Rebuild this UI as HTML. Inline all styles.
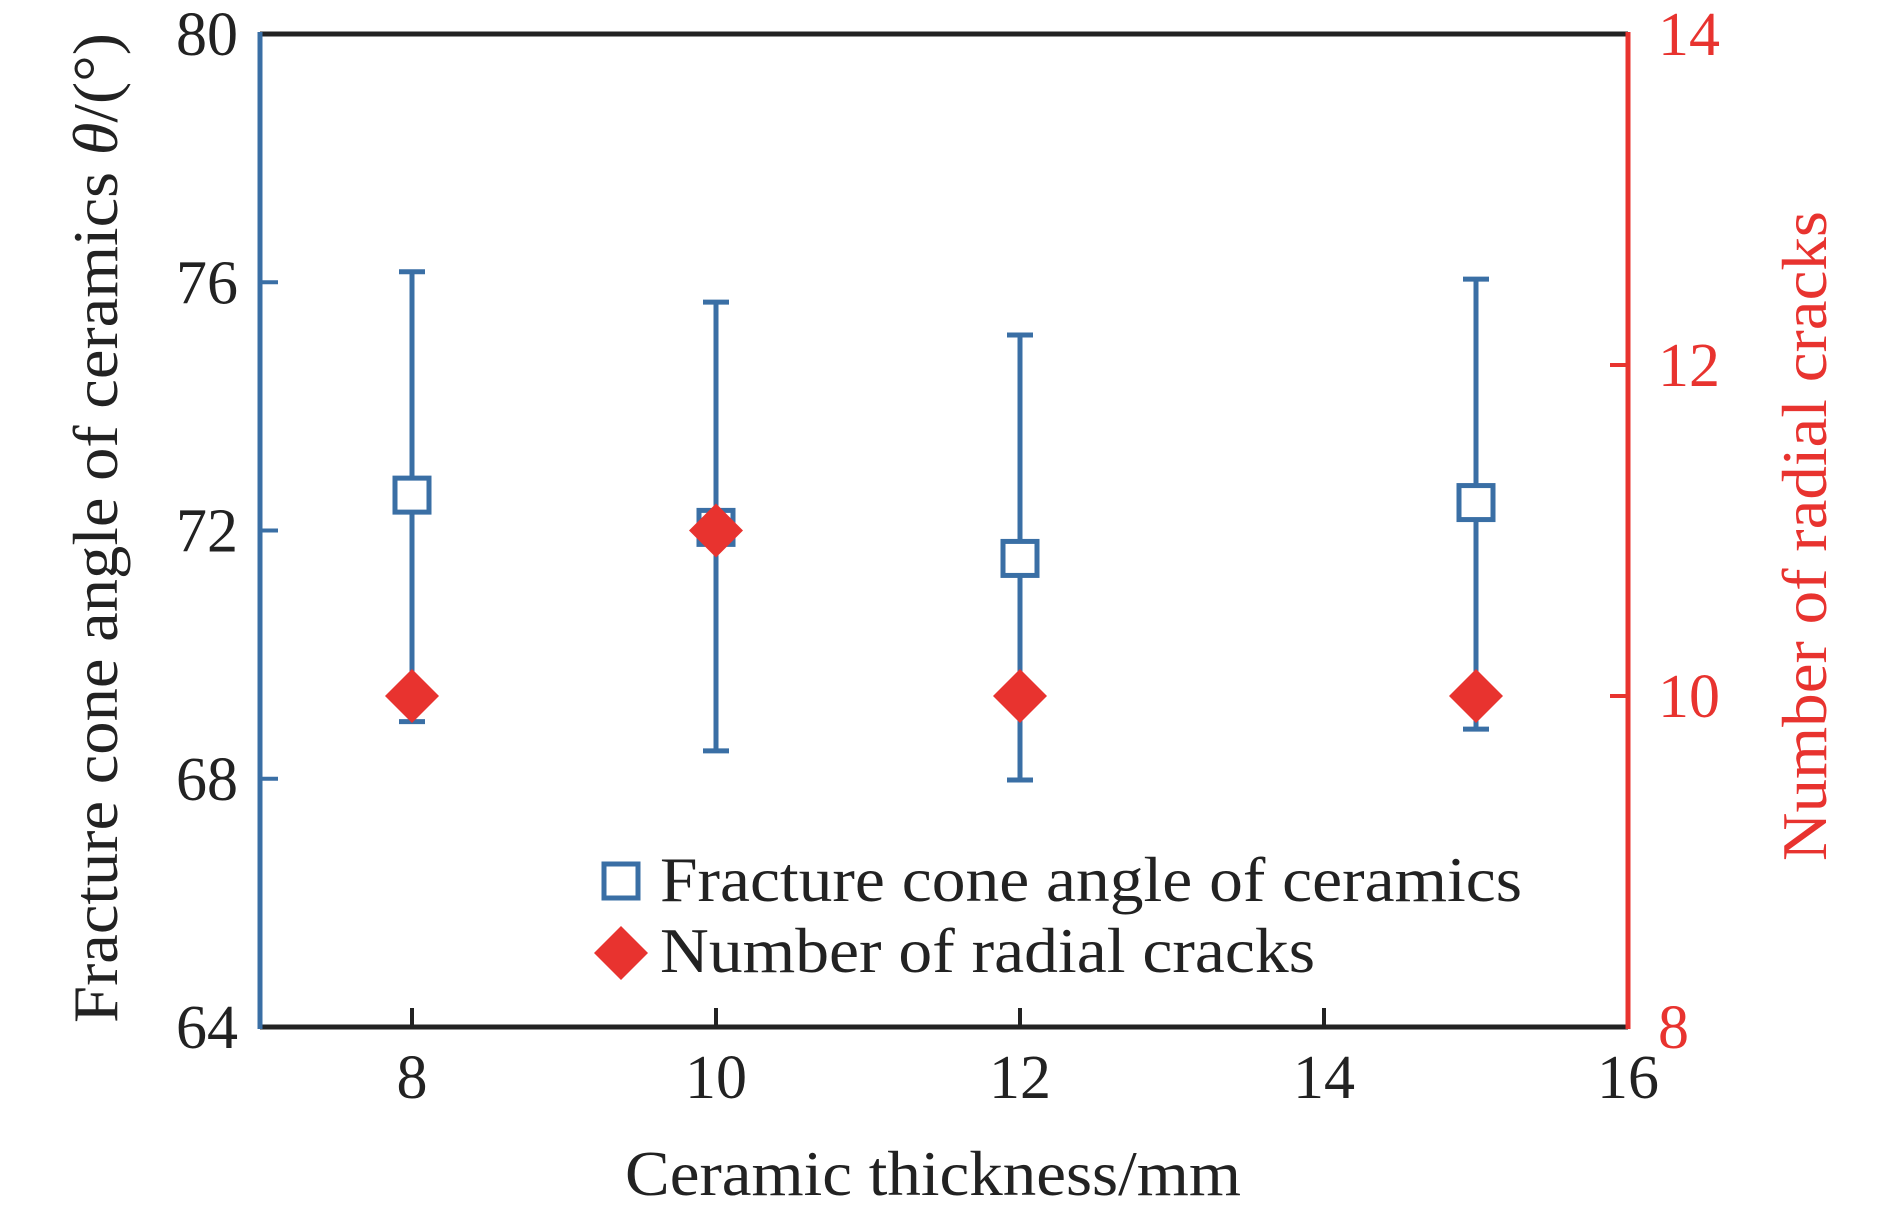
<!DOCTYPE html>
<html><head><meta charset="utf-8"><style>
html,body{margin:0;padding:0;background:#fff;}
svg{display:block;font-family:"Liberation Serif",serif;}
</style></head><body>
<svg id="chart" width="1890" height="1215" viewBox="0 0 1890 1215">
<g id="axes"></g><g id="marks"></g>
<g>
<rect x="604" y="864" width="34" height="34" fill="none" stroke="#3a6fa5" stroke-width="5"/>
<text x="660" y="901" font-size="64" fill="#222" textLength="862" lengthAdjust="spacingAndGlyphs">Fracture cone angle of ceramics</text>
<polygon points="621,926 648,953 621,980 594,953" fill="#e8332f"/>
<text x="660" y="972" font-size="64" fill="#222" textLength="655" lengthAdjust="spacingAndGlyphs">Number of radial cracks</text>
</g>
<text x="933" y="1195" font-size="64" fill="#222" text-anchor="middle" textLength="616" lengthAdjust="spacingAndGlyphs">Ceramic thickness/mm</text>
<text transform="translate(117,528) rotate(-90)" font-size="64" fill="#222" text-anchor="middle" textLength="990" lengthAdjust="spacingAndGlyphs">Fracture cone angle of ceramics <tspan font-style="italic">θ</tspan>/(°)</text>
<text transform="translate(1826,536) rotate(-90)" font-size="64" fill="#e8332f" text-anchor="middle" textLength="650" lengthAdjust="spacingAndGlyphs">Number of radial cracks</text>
</svg>
<script>
const categories = [8, 10, 12, 15];
const coneAngle = [72.57, 72.05, 71.55, 72.45];
const coneUpper = [76.17, 75.68, 75.15, 76.05];
const coneLower = [68.92, 68.45, 67.98, 68.8];
const radialCracks = [10, 11, 10, 10];
const xTicks = [8, 10, 12, 14, 16];
const yLeftTicks = [64, 68, 72, 76, 80];
const yRightTicks = [8, 10, 12, 14];

const L=260,R=1628,T=34,B=1027;
const BLUE="#3a6fa5",RED="#e8332f",NS="http://www.w3.org/2000/svg";
const xs=v=>L+(v-7)/(16-7)*(R-L);
const yl=v=>B-(v-64)/(80-64)*(B-T);
const yr=v=>B-(v-8)/(14-8)*(B-T);
function mk(tag,attrs,parent){const e=document.createElementNS(NS,tag);for(const k in attrs)e.setAttribute(k,attrs[k]);parent.appendChild(e);return e;}
const axes=document.getElementById('axes'),marks=document.getElementById('marks');

let e;
e=mk('line',{x1:L,y1:T,x2:R,y2:T,stroke:'#222','stroke-width':5},axes);


e=mk('line',{x1:L,y1:B,x2:R,y2:B,stroke:'#222','stroke-width':5},axes);


e=mk('line',{x1:L,y1:T-2,x2:L,y2:B+2,stroke:BLUE,'stroke-width':5},axes);


e=mk('line',{x1:R,y1:T-2,x2:R,y2:B+2,stroke:RED,'stroke-width':5},axes);



xTicks.forEach(v=>{
  const x=xs(v);
  if(v<16){e=mk('line',{x1:x,y1:B,x2:x,y2:B-19,stroke:'#222','stroke-width':4},axes);
  
  }
  e=mk('text',{x:x,y:1098,'font-size':62,'text-anchor':'middle',fill:'#222'},axes);
  e.textContent=v;
  
  
});
yLeftTicks.forEach(v=>{
  const y=yl(v);
  if(v>64&&v<80){e=mk('line',{x1:L,y1:y,x2:L+18,y2:y,stroke:BLUE,'stroke-width':4},axes);
  
  }
  e=mk('text',{x:238,y:y+21,'font-size':62,'text-anchor':'end',fill:'#222'},axes);
  e.textContent=v;
  
  
});
yRightTicks.forEach(v=>{
  const y=yr(v);
  if(v>8&&v<14){e=mk('line',{x1:R,y1:y,x2:R-18,y2:y,stroke:RED,'stroke-width':4},axes);
  
  }
  e=mk('text',{x:1658,y:y+21,'font-size':62,'text-anchor':'start',fill:RED},axes);
  e.textContent=v;
  
  
});

categories.forEach((c,i)=>{
  const x=xs(c),yc=yl(coneAngle[i]),yu=yl(coneUpper[i]),yd=yl(coneLower[i]);
  const g=mk('g',{},marks);
  
  
  mk('line',{x1:x,y1:yu,x2:x,y2:yc-19,stroke:BLUE,'stroke-width':5},g);
  mk('line',{x1:x,y1:yc+19,x2:x,y2:yd,stroke:BLUE,'stroke-width':5},g);
  mk('line',{x1:x-13,y1:yu,x2:x+13,y2:yu,stroke:BLUE,'stroke-width':5},g);
  mk('line',{x1:x-13,y1:yd,x2:x+13,y2:yd,stroke:BLUE,'stroke-width':5},g);
  mk('rect',{x:x-17,y:yc-17,width:34,height:34,fill:'#fff',stroke:BLUE,'stroke-width':5},g);
});
categories.forEach((c,i)=>{
  const x=xs(c),y=yr(radialCracks[i]);
  const d=mk('polygon',{points:`${x},${y-27} ${x+27},${y} ${x},${y+27} ${x-27},${y}`,fill:RED},marks);
  
  
});
</script>
</body></html>
